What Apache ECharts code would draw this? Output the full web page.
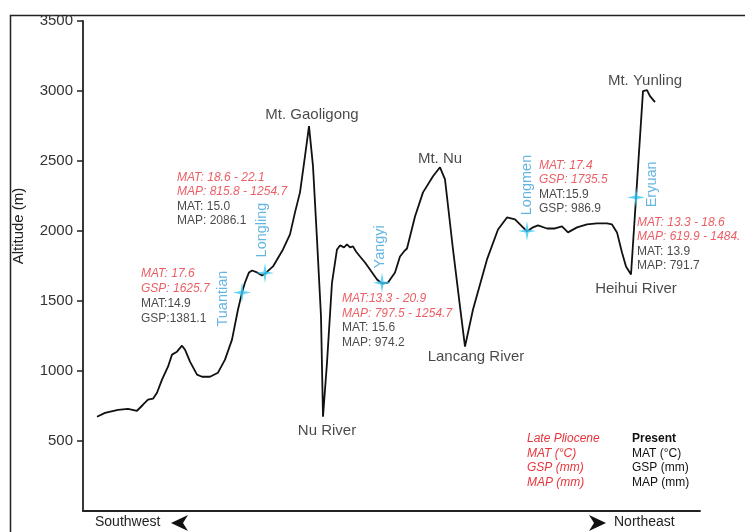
<!DOCTYPE html>
<html>
<head>
<meta charset="utf-8">
<script src="https://cdn.jsdelivr.net/npm/echarts@6/dist/echarts.min.js"></script>
<style>
  html, body { margin: 0; padding: 0; background: #fff; }
  #chart { width: 745px; height: 532px; }
</style>
</head>
<body>
<div id="chart"></div>
<script>
// Topographic transect, southwest -> northeast (distance in arbitrary profile units)
const profileDistance = [14, 22, 35, 45, 54, 60, 65, 70, 74, 79, 85, 89, 94, 99, 102, 107, 114, 119, 127, 135,
  142, 149, 155, 159, 162, 166, 169, 174, 179, 182, 190, 200, 207, 212, 217, 222, 226, 230, 234, 238,
  240, 244, 249, 254, 257, 261, 264, 267, 270, 273, 277, 282, 287, 294, 299, 305, 312, 317, 321, 324,
  332, 340, 350, 357, 362, 370, 377, 382, 390, 404, 415, 424, 432, 440, 444, 450, 455, 464, 472, 479,
  485, 494, 504, 514, 524, 529, 534, 539, 543, 548, 560, 564, 567, 572];
const profileAltitude = [673, 701, 723, 730, 716, 759, 795, 802, 845, 938, 1031, 1117, 1138, 1181, 1152, 1067, 974, 959, 959, 988,
  1081, 1224, 1439, 1560, 1632, 1704, 1718, 1704, 1682, 1696, 1747, 1868, 1976, 2133, 2276, 2534, 2749, 2463, 1940, 1389,
  673, 1060, 1632, 1868, 1897, 1883, 1904, 1883, 1890, 1854, 1818, 1775, 1725, 1654, 1625, 1632, 1704, 1818, 1854, 1875,
  2104, 2276, 2391, 2455, 2369, 1868, 1460, 1174, 1439, 1797, 2011, 2097, 2083, 2026, 1997, 2026, 2040, 2018, 2018, 2033,
  1990, 2026, 2047, 2054, 2054, 2047, 1990, 1847, 1747, 1689, 2999, 3006, 2963, 2920];

// Sampling sites along the transect
const siteNames = ['Tuantian', 'Longling', 'Yangyi', 'Longmen', 'Eryuan'];
const siteDistance = [159, 182, 299, 444, 553];
const siteAltitude = [1560, 1700, 1630, 2000, 2240];

// Late Pliocene reconstructions (red) and present-day climate (black) per site
const plioceneClimate = [
  ['MAT: 17.6', 'GSP: 1625.7'],
  ['MAT: 18.6 - 22.1', 'MAP: 815.8 - 1254.7'],
  ['MAT:13.3 - 20.9', 'MAP: 797.5 - 1254.7'],
  ['MAT: 17.4', 'GSP: 1735.5'],
  ['MAT: 13.3 - 18.6', 'MAP: 619.9 - 1484.']
];
const presentClimate = [
  ['MAT:14.9', 'GSP:1381.1'],
  ['MAT: 15.0', 'MAP: 2086.1'],
  ['MAT: 15.6', 'MAP: 974.2'],
  ['MAT:15.9', 'GSP: 986.9'],
  ['MAT: 13.9', 'MAP: 791.7']
];

// Named peaks and river valleys
const featureNames = ['Mt. Gaoligong', 'Nu River', 'Mt. Nu', 'Lancang River', 'Mt. Yunling', 'Heihui River'];
const featureDistance = [226, 240, 357, 382, 562, 548];
const featureAltitude = [2749, 673, 2455, 1174, 3006, 1689];

const yTicks = [500, 1000, 1500, 2000, 2500, 3000, 3500];
const legendPliocene = ['Late Pliocene', 'MAT (\u00b0C)', 'GSP (mm)', 'MAP (mm)'];
const legendPresent = ['Present', 'MAT (\u00b0C)', 'GSP (mm)', 'MAP (mm)'];
const directionLabels = ['Southwest', 'Northeast'];

const FONT = "'Liberation Sans', Arial, Helvetica, sans-serif";
const RED = '#e6363e';
const BLUE = '#3fa3dc';
const STAR = '#3cc8f2';
const STAR_SIZE = [18, 20];

// label placement (pixels relative to the site point)
const siteNameOffset = {
  Tuantian: [-19, 6], Longling: [-3, -43], Yangyi: [-2, -36], Longmen: [0, -46], Eryuan: [16, -13]
};
const climateBlockOffset = {
  Tuantian: [-101, -26.5, 15], Longling: [-88, -103, 14.5], Yangyi: [-40, 9, 14.5],
  Longmen: [12, -73, 14.5], Eryuan: [1, 18, 14.5]
};
const featureLabelStyle = {
  'Mt. Gaoligong': { position: 'top', distance: 4, offset: [3, 0] },
  'Nu River': { position: 'bottom', distance: 7, offset: [4, 0] },
  'Mt. Nu': { position: 'top', distance: 1, offset: [0, 0] },
  'Lancang River': { position: 'bottom', distance: 3, offset: [11, 0] },
  'Mt. Yunling': { position: 'top', distance: 2, offset: [0, 0] },
  'Heihui River': { position: 'bottom', distance: 7, offset: [5, 0] }
};

const profileData = profileDistance.map((d, i) => [d, profileAltitude[i]]);

const starPath = 'path://M0,-10 L1.6,-1.6 L10,0 L1.6,1.6 L0,10 L-1.6,1.6 L-10,0 L-1.6,-1.6 Z';

// label positions are measured from the symbol's top-left corner
const siteNameData = siteNames.map((n, i) => ({
  value: [siteDistance[i], siteAltitude[i]],
  name: n,
  label: { position: [siteNameOffset[n][0] + STAR_SIZE[0] / 2, siteNameOffset[n][1] + STAR_SIZE[1] / 2] }
}));

const climateData = siteNames.map((n, i) => {
  const o = climateBlockOffset[n];
  return {
    value: [siteDistance[i], siteAltitude[i]],
    name: n,
    label: {
      position: [o[0], o[1]],
      lineHeight: o[2],
      rich: { r: { lineHeight: o[2] }, k: { lineHeight: o[2] } },
      formatter: plioceneClimate[i].map(t => '{r|' + t + '}').concat(
        presentClimate[i].map(t => '{k|' + t + '}')).join('\n')
    }
  };
});

const featureData = featureNames.map((n, i) => ({
  value: [featureDistance[i], featureAltitude[i]],
  name: n,
  label: featureLabelStyle[n]
}));

const legendText = [];
legendPliocene.forEach((t, i) => legendText.push({
  type: 'text', left: 527, top: 433 + i * 14.5,
  style: { text: t, fill: RED, font: 'italic 12px ' + FONT }
}));
legendPresent.forEach((t, i) => legendText.push({
  type: 'text', left: 632, top: 433 + i * 14.5,
  style: { text: t, fill: '#111', font: (i === 0 ? 'bold ' : '') + '12px ' + FONT }
}));

const chart = echarts.init(document.getElementById('chart'), null, { renderer: 'canvas' });
chart.setOption({
  animation: false,
  backgroundColor: '#fff',
  grid: { left: 83, right: 45, top: 21, bottom: 21, containLabel: false },
  xAxis: {
    type: 'value', min: 0, max: 617,
    axisLine: { show: true, onZero: false, lineStyle: { color: '#222', width: 1.8 } },
    axisTick: { show: false }, axisLabel: { show: false }, splitLine: { show: false }
  },
  yAxis: {
    type: 'value', min: 0, max: 3500, interval: 500,
    axisLine: { show: true, lineStyle: { color: '#222', width: 1.8 } },
    axisTick: { show: true, length: 6, customValues: yTicks, lineStyle: { color: '#222', width: 1.5 } },
    axisLabel: {
      customValues: yTicks, formatter: v => String(v),
      color: '#333', fontFamily: FONT, fontSize: 15, margin: 10
    },
    splitLine: { show: false }
  },
  series: [
    {
      type: 'line', data: profileData, symbol: 'none', smooth: false,
      lineStyle: { color: '#111', width: 1.8 }, z: 3
    },
    {
      // site markers with rotated names
      type: 'scatter', data: siteNameData, symbol: starPath, symbolSize: STAR_SIZE,
      itemStyle: { color: STAR }, z: 4,
      label: {
        show: true, formatter: '{b}', rotate: 90, align: 'center', verticalAlign: 'middle',
        color: BLUE, fontFamily: FONT, fontSize: 14.5
      }
    },
    {
      // climate annotations anchored at each site
      type: 'scatter', data: climateData, symbolSize: 0.01, itemStyle: { color: 'rgba(0,0,0,0)' }, z: 5,
      silent: true,
      label: {
        show: true, align: 'left', verticalAlign: 'top', fontFamily: FONT, fontSize: 12,
        rich: {
          r: { color: RED, fontStyle: 'italic', fontSize: 12, fontFamily: FONT },
          k: { color: '#1a1a1a', fontSize: 12, fontFamily: FONT }
        }
      }
    },
    {
      // peaks and rivers
      type: 'scatter', data: featureData, symbolSize: 0.01, itemStyle: { color: 'rgba(0,0,0,0)' }, z: 5,
      silent: true,
      label: { show: true, formatter: '{b}', color: '#1a1a1a', fontFamily: FONT, fontSize: 15 }
    }
  ],
  graphic: [
    {
      type: 'rect', shape: { x: 10.5, y: 15.5, width: 800, height: 600 },
      style: { fill: 'none', stroke: '#222', lineWidth: 1.5 }, z: 0
    },
    {
      type: 'text', x: 19, y: 226, rotation: Math.PI / 2,
      style: { text: 'Altitude (m)', fill: '#222', font: '15px ' + FONT, align: 'center', verticalAlign: 'middle' }
    },
    {
      type: 'text', left: 95, top: 515,
      style: { text: directionLabels[0], fill: '#222', font: '14px ' + FONT }
    },
    {
      type: 'text', left: 614, top: 515,
      style: { text: directionLabels[1], fill: '#222', font: '14px ' + FONT }
    },
    {
      type: 'polygon', shape: { points: [[171, 523], [188, 515], [183, 523], [188, 531]] },
      style: { fill: '#111' }
    },
    {
      type: 'polygon', shape: { points: [[606, 523], [589, 515], [594, 523], [589, 531]] },
      style: { fill: '#111' }
    }
  ].concat(legendText)
});
</script>
</body>
</html>
